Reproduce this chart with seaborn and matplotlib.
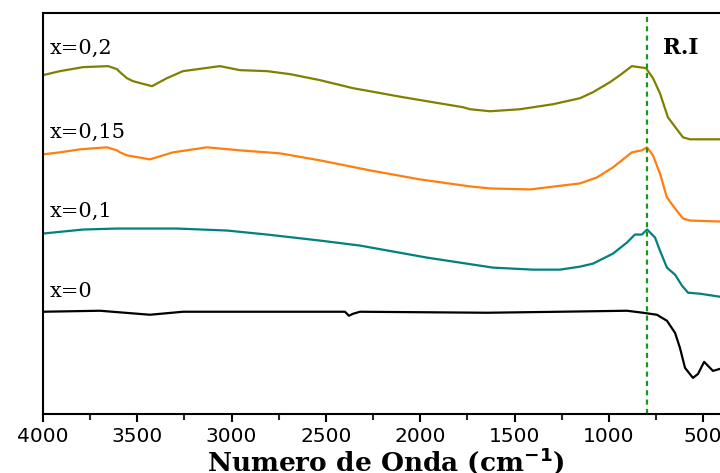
import matplotlib
matplotlib.use("Agg")
import matplotlib.pyplot as plt
from matplotlib.ticker import MultipleLocator
import pandas as pd
import seaborn as sns

# FTIR spectra (vertically offset for clarity), wavenumber in cm^-1
wn_02 = [4000, 3910, 3788, 3655, 3608, 3592, 3555, 3523, 3422, 3343, 3258, 3062, 2956,
         2812, 2690, 2531, 2356, 2091, 1773, 1736, 1630, 1471, 1296, 1153, 1084, 994,
         941, 878, 803, 766, 729, 687, 607, 570, 411]
t_02 = [84.5, 85.5, 86.5, 86.75, 86.0, 85.25, 83.75, 83.0, 81.75, 83.75, 85.5, 86.75, 85.75,
        85.5, 84.75, 83.25, 81.25, 79.0, 76.5, 76.0, 75.5, 76.0, 77.25, 78.75, 80.25, 82.75,
        84.5, 86.75, 86.25, 83.75, 80.0, 74.0, 69.0, 68.5, 68.5]

wn_015 = [4000, 3910, 3804, 3661, 3608, 3592, 3555, 3433, 3364, 3311, 3131, 2956, 2744,
          2531, 2266, 2001, 1736, 1630, 1418, 1243, 1153, 1063, 978, 878, 825, 797, 766,
          729, 692, 649, 607, 570, 411]
t_015 = [64.75, 65.25, 66.0, 66.5, 65.75, 65.25, 64.5, 63.5, 64.5, 65.25, 66.5, 65.75, 65.0,
         63.25, 60.75, 58.5, 56.75, 56.25, 56.0, 57.0, 57.5, 59.0, 61.5, 65.25, 65.75, 66.5,
         64.5, 60.0, 54.0, 51.25, 48.75, 48.25, 48.0]

wn_01 = [4000, 3788, 3608, 3290, 3024, 2812, 2531, 2319, 1964, 1614, 1402, 1259, 1153,
         1084, 978, 904, 862, 825, 797, 755, 729, 692, 649, 612, 580, 517, 411]
t_01 = [45.0, 46.0, 46.25, 46.25, 45.75, 44.75, 43.25, 42.0, 39.0, 36.5, 36.0, 36.0, 36.75,
        37.5, 40.0, 42.75, 44.75, 44.75, 46.0, 44.0, 40.75, 36.5, 34.75, 32.0, 30.25, 30.0,
        29.25]

wn_0 = [4000, 3698, 3433, 3258, 2993, 2399, 2378, 2356, 2319, 1646, 1259, 904, 819, 745,
        692, 649, 623, 596, 554, 527, 495, 474, 448, 411]
t_0 = [25.5, 25.75, 24.75, 25.5, 25.5, 25.5, 24.5, 25.0, 25.5, 25.25, 25.5, 25.75, 25.25,
       24.75, 23.25, 20.25, 16.5, 11.5, 9.0, 10.0, 13.0, 12.0, 10.75, 11.25]

samples = ["x=0,2", "x=0,15", "x=0,1", "x=0"]
colors = ["#808000", "#ff7f0e", "#008080", "#000000"]
label_y = [91.25, 70.25, 50.5, 30.5]
ri_position = 800

df = pd.concat([
    pd.DataFrame({"wn": w, "T": t, "sample": s})
    for w, t, s in zip([wn_02, wn_015, wn_01, wn_0], [t_02, t_015, t_01, t_0], samples)
])

sns.set_theme(style="white")
plt.rcParams["font.family"] = ["DejaVu Sans"]

fig = plt.figure(figsize=(7.2, 4.73), dpi=100)
ax = fig.add_axes([43 / 720, 59 / 473, 679 / 720, 401 / 473])

sns.lineplot(data=df, x="wn", y="T", hue="sample", palette=dict(zip(samples, colors)),
             estimator=None, sort=False, legend=False, linewidth=1.6, ax=ax)

ax.axvline(ri_position, color="#1a961a", linewidth=1.6, linestyle=(0, (2.3, 1.9)))

for s, y in zip(samples, label_y):
    ax.text(3965, y, s, fontsize=15, family="DejaVu Serif", va="center", ha="left",
            color="black")
ax.text(715, 91.25, "R.I", fontsize=15.5, family="DejaVu Serif", fontweight="bold",
        va="center", ha="left", color="black")

ax.set_xlim(4000, 400)
ax.set_ylim(0, 100)
ax.xaxis.set_major_locator(MultipleLocator(500))
ax.xaxis.set_minor_locator(MultipleLocator(250))
ax.tick_params(axis="x", which="major", direction="out", length=6, width=1.5,
               labelsize=14.5, pad=3, bottom=True, colors="black")
ax.tick_params(axis="x", which="minor", direction="out", length=4, width=1.5, bottom=True)
ax.set_yticks([])
ax.set_ylabel("")
ax.set_xlabel("Numero de Onda (cm$^{\\mathbf{-1}}$)", fontsize=19, family="DejaVu Serif",
              fontweight="bold", color="black")
ax.xaxis.label.set_va("baseline")
ax.xaxis.set_label_coords(0.505, -0.142)
for side in ["left", "top", "bottom", "right"]:
    ax.spines[side].set_color("black")
    ax.spines[side].set_linewidth(1.5)

fig.savefig("out.png", dpi=100)
